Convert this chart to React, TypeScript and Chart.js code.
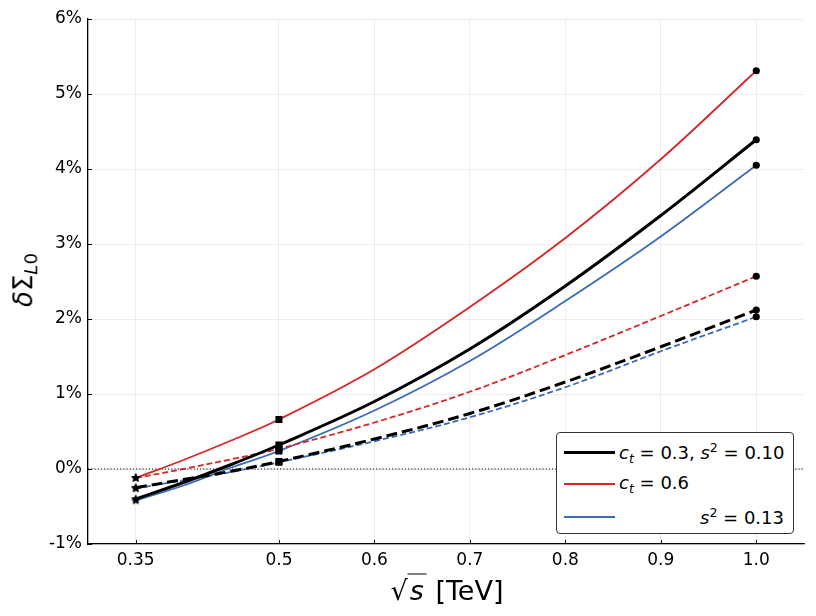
import { useEffect, useRef } from 'react';
import { Chart, registerables } from 'chart.js';

Chart.register(...registerables);

// sqrt(s) in TeV
const energies = [0.35, 0.4, 0.45, 0.5, 0.6, 0.7, 0.8, 0.9, 1.0];

// delta Sigma_L0 in percent
const blackSolid = [-0.40, -0.18, 0.06, 0.32, 0.90, 1.60, 2.44, 3.38, 4.39];
const redSolid = [-0.12, 0.12, 0.38, 0.66, 1.33, 2.16, 3.08, 4.13, 5.31];
const blueSolid = [-0.42, -0.22, 0.02, 0.24, 0.78, 1.44, 2.24, 3.10, 4.05];
const blackDashed = [-0.25, -0.14, -0.03, 0.10, 0.40, 0.74, 1.16, 1.63, 2.12];
const redDashed = [-0.12, 0.00, 0.13, 0.27, 0.62, 1.03, 1.52, 2.04, 2.57];
const blueDashed = [-0.26, -0.15, -0.04, 0.09, 0.37, 0.69, 1.09, 1.57, 2.03];

const markerEnergies = [0.35, 0.5, 1.0];
const xTicks = [0.35, 0.5, 0.6, 0.7, 0.8, 0.9, 1.0];
const xTickLabels = ['0.35', '0.5', '0.6', '0.7', '0.8', '0.9', '1.0'];
const yTicks = [-1, 0, 1, 2, 3, 4, 5, 6];

const RED = '#d62728';
const BLUE = '#3a6bb6';
const FONT = '"DejaVu Sans", sans-serif';

function makeStar(size: number) {
    const c = document.createElement('canvas');
    c.width = size;
    c.height = size;
    const g = c.getContext('2d')!;
    const cx = size / 2, cy = size / 2, ro = size / 2, ri = ro * 0.45;
    g.beginPath();
    for (let i = 0; i < 10; i++) {
        const r = i % 2 === 0 ? ro : ri;
        const a = -Math.PI / 2 + (i * Math.PI) / 5;
        const px = cx + r * Math.cos(a), py = cy + r * Math.sin(a);
        if (i === 0) g.moveTo(px, py); else g.lineTo(px, py);
    }
    g.closePath();
    g.fillStyle = '#000';
    g.fill();
    return c;
}

const toPoints = (ys: number[]) => energies.map((x, i) => ({ x, y: ys[i] }));
const toMarkers = (ys: number[]) =>
    energies.map((x, i) => ({ x, y: ys[i] })).filter(p => markerEnergies.includes(p.x));

const inwardTicks = {
    id: 'inwardTicks',
    afterDraw(chart: any) {
        const { ctx, chartArea, scales } = chart;
        ctx.save();
        ctx.strokeStyle = '#000';
        ctx.lineWidth = 1;
        xTicks.forEach(v => {
            const px = Math.round(scales.x.getPixelForValue(v)) + 0.5;
            ctx.beginPath();
            ctx.moveTo(px, chartArea.bottom);
            ctx.lineTo(px, chartArea.bottom - 4);
            ctx.stroke();
        });
        yTicks.forEach(v => {
            const py = Math.round(scales.y.getPixelForValue(v)) + 0.5;
            ctx.beginPath();
            ctx.moveTo(chartArea.left, py);
            ctx.lineTo(chartArea.left + 4, py);
            ctx.stroke();
        });
        ctx.restore();
    },
};

export default function App() {
    const canvasRef = useRef<HTMLCanvasElement | null>(null);

    useEffect(() => {
        document.body.style.margin = '0';
        if (!canvasRef.current) {
            return;
        }
        const star = makeStar(10);
        const markerStyle = (ctx: any) => {
            const x = ctx.raw?.x;
            if (x === 0.35) return star;
            if (x === 0.5) return 'rect';
            return 'circle';
        };
        const markerRadius = (ctx: any) => (ctx.raw?.x === 0.5 ? 5 : 3.6);

        const markerSet = (ys: number[]) => ({
            data: toMarkers(ys),
            showLine: false,
            pointStyle: markerStyle,
            pointRadius: markerRadius,
            pointBackgroundColor: '#000',
            pointBorderColor: '#000',
            pointBorderWidth: 0,
            order: 0,
        });
        const lineSet = (ys: number[], color: string, width: number, dash: number[]) => ({
            data: toPoints(ys),
            borderColor: color,
            borderWidth: width,
            borderDash: dash,
            pointRadius: 0,
            tension: 0.35,
            fill: false,
            order: 1,
        });

        const chart = new Chart(canvasRef.current, {
            type: 'line',
            data: {
                datasets: [
                    markerSet(blackSolid),
                    markerSet(redSolid),
                    markerSet(blueSolid),
                    markerSet(blackDashed),
                    markerSet(redDashed),
                    markerSet(blueDashed),
                    lineSet(blackSolid, '#000', 3, []),
                    lineSet(blackDashed, '#000', 3, [11, 5]),
                    lineSet(redSolid, RED, 1.8, []),
                    lineSet(redDashed, RED, 1.8, [6, 3]),
                    lineSet(blueSolid, BLUE, 1.8, []),
                    lineSet(blueDashed, BLUE, 1.8, [6, 3]),
                    {
                        data: [{ x: 0.3, y: 0 }, { x: 1.05, y: 0 }],
                        borderColor: '#000',
                        borderWidth: 1.2,
                        borderDash: [1.2, 2],
                        pointRadius: 0,
                        order: 2,
                    },
                ],
            },
            options: {
                animation: false,
                responsive: false,
                layout: { padding: { top: 19, right: 12, left: 0, bottom: 0 } },
                plugins: { legend: { display: false }, tooltip: { enabled: false } },
                scales: {
                    x: {
                        type: 'linear',
                        min: 0.3,
                        max: 1.05,
                        afterBuildTicks: (s: any) => { s.ticks = xTicks.map(v => ({ value: v })); },
                        afterFit: (s: any) => { s.height = 72; },
                        ticks: {
                            callback: (v: any) => xTickLabels[xTicks.indexOf(Number(v))] ?? '',
                            font: { family: FONT, size: 17 },
                            color: '#000',
                            padding: 6,
                            maxRotation: 0,
                        },
                        grid: { color: '#e8e8e8', lineWidth: 0.8, drawTicks: false },
                        border: { color: '#000', width: 1.3 },
                    },
                    y: {
                        type: 'linear',
                        min: -1,
                        max: 6,
                        afterBuildTicks: (s: any) => { s.ticks = yTicks.map(v => ({ value: v })); },
                        afterFit: (s: any) => { s.width = 88; },
                        ticks: {
                            callback: (v: any) => `${v}%`,
                            font: { family: FONT, size: 17 },
                            color: '#000',
                            padding: 6,
                        },
                        grid: { color: '#e8e8e8', lineWidth: 0.8, drawTicks: false },
                        border: { color: '#000', width: 1.3 },
                    },
                },
            },
            plugins: [inwardTicks],
        });
        return () => chart.destroy();
    }, []);

    const math = { fontFamily: FONT, fontSize: 18, color: '#000', whiteSpace: 'nowrap' as const };
    const it = { fontStyle: 'italic' as const };
    const sub = { fontSize: '0.7em', verticalAlign: '-0.3em' };
    const sup = { fontSize: '0.7em', verticalAlign: '0.55em' };

    return (
        <div style={{ position: 'relative', width: 816, height: 616, background: '#fff' }}>
            <canvas ref={canvasRef} width={816} height={616} />

            <div style={{
                position: 'absolute', left: 5, top: 287, transform: 'translate(0, -50%) rotate(-90deg)',
                transformOrigin: 'center', fontFamily: FONT, fontSize: 26, whiteSpace: 'nowrap', width: 40,
                textAlign: 'center',
            }}>
                <span style={it}>δ</span>Σ<span style={{ fontSize: '0.7em', verticalAlign: '-0.3em' }}><span style={it}>L</span>0</span>
            </div>

            <div style={{
                position: 'absolute', left: 447, top: 590, transform: 'translate(-50%, -50%)',
                fontFamily: FONT, fontSize: 27, whiteSpace: 'nowrap',
            }}>
                √<span style={{ ...it, borderTop: '1.5px solid #000', paddingLeft: 2, paddingRight: 3 }}>s</span> [TeV]
            </div>

            <div style={{
                position: 'absolute', left: 556, top: 432, width: 236, height: 100,
                border: '1.2px solid #333', borderRadius: 4, background: '#fff', boxSizing: 'content-box',
            }}>
                <div style={{ position: 'absolute', left: 7, top: 18, width: 51, height: 3, background: '#000' }} />
                <div style={{ position: 'absolute', left: 7, top: 50, width: 51, height: 1.8, background: RED }} />
                <div style={{ position: 'absolute', left: 7, top: 83, width: 51, height: 1.8, background: BLUE }} />
                <div style={{ ...math, position: 'absolute', left: 62, top: 7 }}>
                    <span style={it}>c</span><span style={{ ...sub, ...it }}>t</span> = 0.3, <span style={it}>s</span><span style={sup}>2</span> = 0.10
                </div>
                <div style={{ ...math, position: 'absolute', left: 62, top: 39 }}>
                    <span style={it}>c</span><span style={{ ...sub, ...it }}>t</span> = 0.6
                </div>
                <div style={{ ...math, position: 'absolute', right: 9, top: 72 }}>
                    <span style={it}>s</span><span style={sup}>2</span> = 0.13
                </div>
            </div>
        </div>
    );
}
